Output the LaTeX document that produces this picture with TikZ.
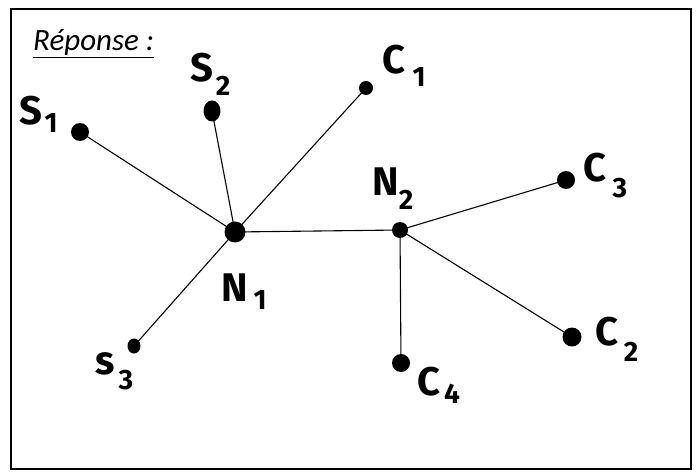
\documentclass[tikz,border=0pt]{standalone}
\usepackage{fontspec}
\usetikzlibrary{shapes.geometric}
\setmainfont{Carlito}
\newfontfamily\handfont{Fira Sans}
\begin{document}
\begin{tikzpicture}[x=1pt,y=-1pt,
  edge/.style={line width=1.1pt},
  letter/.style={font=\handfont\fontsize{40}{40}\selectfont\bfseries,inner sep=0pt},
  subscr/.style={font=\handfont\fontsize{28}{28}\selectfont\bfseries,inner sep=0pt}]
\useasboundingbox (0,0) rectangle (696,473);
\draw[line width=1.3pt] (11,9) rectangle (691,469);
\node[anchor=base west,font=\fontsize{31}{31}\selectfont\itshape,inner sep=0pt] (title) at (33,51) {\underline{Réponse :}};
% nodes
\node[circle,fill=black,inner sep=0pt,minimum size=18pt] (S1) at (80,132) {};
\node[ellipse,fill=black,inner sep=0pt,minimum width=17pt,minimum height=21pt] (S2) at (212,111) {};
\node[circle,fill=black,inner sep=0pt,minimum size=14pt] (C1) at (366,88) {};
\node[circle,fill=black,inner sep=0pt,minimum size=21pt] (N1) at (235,232) {};
\node[circle,fill=black,inner sep=0pt,minimum size=16pt] (N2) at (400,230) {};
\node[circle,fill=black,inner sep=0pt,minimum size=18pt] (C3) at (566,180) {};
\node[circle,fill=black,inner sep=0pt,minimum size=19pt] (C2) at (572,337) {};
\node[circle,fill=black,inner sep=0pt,minimum size=18pt] (C4) at (401,363) {};
\node[ellipse,fill=black,inner sep=0pt,minimum width=13pt,minimum height=15pt] (S3) at (134,346) {};
% edges
\draw[edge] (N1.center) -- (S1.center);
\draw[edge] (N1.center) -- (S2.center);
\draw[edge] (N1.center) -- (C1.center);
\draw[edge] (N1.center) -- (S3.center);
\draw[edge] (N1.center) -- (N2.center);
\draw[edge] (N2.center) -- (C3.center);
\draw[edge] (N2.center) -- (C2.center);
\draw[edge] (N2.center) -- (C4.center);
% labels
\node[letter] (lS1) at (31,111) {S};   \node[subscr] (iS1) at (51,123) {1};
\node[letter] (lS2) at (202,68) {S};   \node[subscr] (iS2) at (223,86) {2};
\node[letter] (lC1) at (394,60) {C};   \node[subscr] (iC1) at (419,77) {1};
\node[letter] (lN1) at (235,288) {N};  \node[subscr] (iN1) at (260,300) {1};
\node[letter] (lN2) at (386,182) {N};  \node[subscr] (iN2) at (406,200) {2};
\node[letter] (lC3) at (595,168) {C};  \node[subscr] (iC3) at (620,188) {3};
\node[letter] (lC2) at (607,332) {C};  \node[subscr] (iC2) at (631,352) {2};
\node[letter] (lC4) at (429,382) {C};  \node[subscr] (iC4) at (452,394) {4};
\node[letter] (lS3) at (105,364) {s};  \node[subscr] (iS3) at (126,380) {3};
\end{tikzpicture}
\end{document}
